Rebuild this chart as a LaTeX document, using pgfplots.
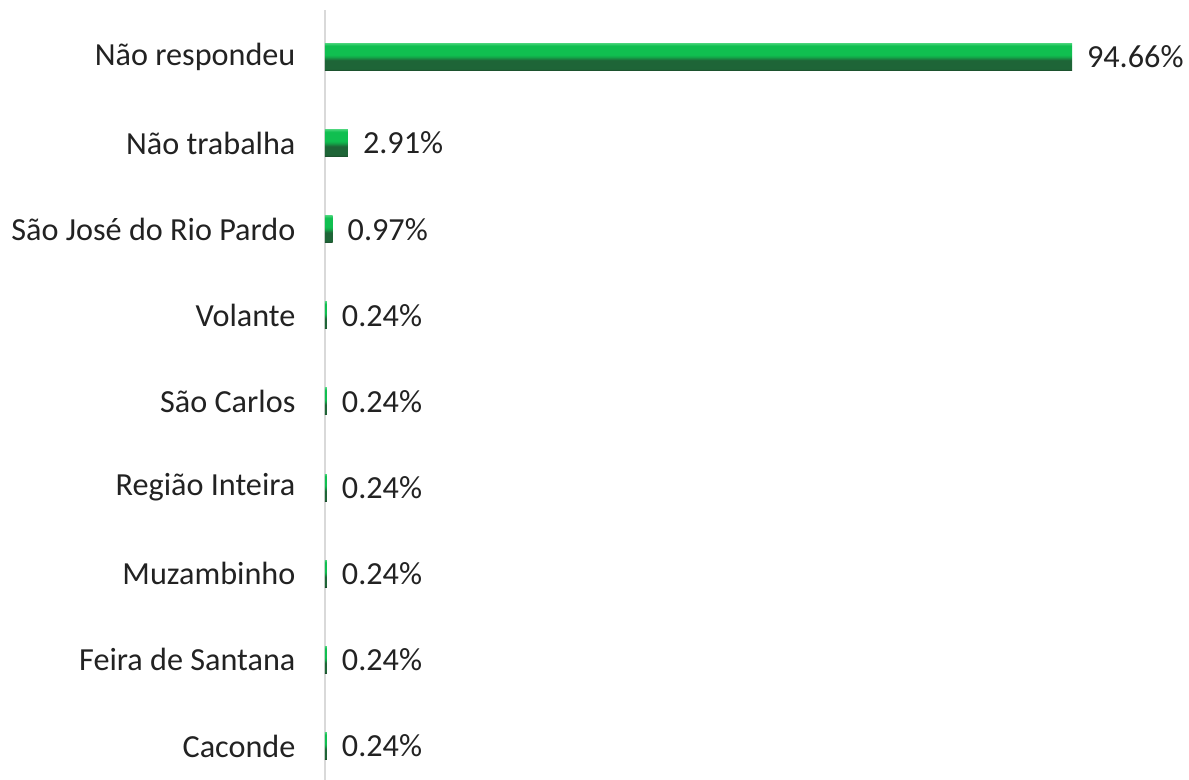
\documentclass[border=0pt]{standalone}
\usepackage{pgfplots}
\pgfplotsset{compat=1.18}
\usepackage{fontspec}
\setmainfont{Carlito}

% bar colours
\definecolor{gEdge}{HTML}{1B4A2A}
\definecolor{gDark}{HTML}{1E6537}
\definecolor{gMid}{HTML}{13A548}
\definecolor{gLite}{HTML}{10BF50}
\definecolor{gTop}{HTML}{3FD173}
\definecolor{axisgray}{HTML}{D9D9D9}
\definecolor{txt}{HTML}{222222}

% bevelled look: dark lower part, bright upper part
\pgfdeclareverticalshading{bevel}{100bp}{%
  color(0bp)=(gEdge); color(25bp)=(gEdge); color(28bp)=(gDark);
  color(44bp)=(gDark); color(50bp)=(gMid); color(54bp)=(gLite);
  color(71bp)=(gLite); color(75bp)=(gTop); color(100bp)=(gTop)}

\begin{document}
\begin{tikzpicture}
\useasboundingbox (0,0) rectangle (594.5pt,390pt);
\begin{axis}[
    at={(162.5pt,0pt)}, anchor=south west,
    scale only axis,
    width=373.5pt, height=385pt,
    xbar, bar width=13.5pt, bar shift=0pt,
    xmin=0, xmax=94.66,
    ymin=-0.395, ymax=8.546,
    axis x line=none,
    axis y line*=left,
    y axis line style={draw=axisgray, line width=1pt, -},
    ytick={0,...,8},
    yticklabels={Caconde, Feira de Santana, Muzambinho, Região Inteira,
                 São Carlos, Volante, São José do Rio Pardo,
                 Não trabalha, Não respondeu},
    ytick style={draw=none},
    yticklabel style={font=\fontsize{16.1pt}{19pt}\selectfont, text=txt,
                      xshift=-7pt},
    point meta=x,
    nodes near coords={\pgfmathprintnumber[fixed, fixed zerofill,
        precision=2, assume math mode=true]{\pgfplotspointmeta}\%},
    every node near coord/.append style={font=\fontsize{16.1pt}{19pt}\selectfont,
        text=txt, xshift=4pt},
    every axis plot/.append style={draw=none, shading=bevel},
    clip=false,
]
% one plot per bar, so that each bar gets its own shading
\addplot coordinates {(94.66,8)};
\addplot coordinates {(2.91,7)};
\addplot coordinates {(0.97,6)};
\addplot coordinates {(0.24,5)};
\addplot coordinates {(0.24,4)};
\addplot coordinates {(0.24,3)};
\addplot coordinates {(0.24,2)};
\addplot coordinates {(0.24,1)};
\addplot coordinates {(0.24,0)};
\end{axis}
\end{tikzpicture}
\end{document}
